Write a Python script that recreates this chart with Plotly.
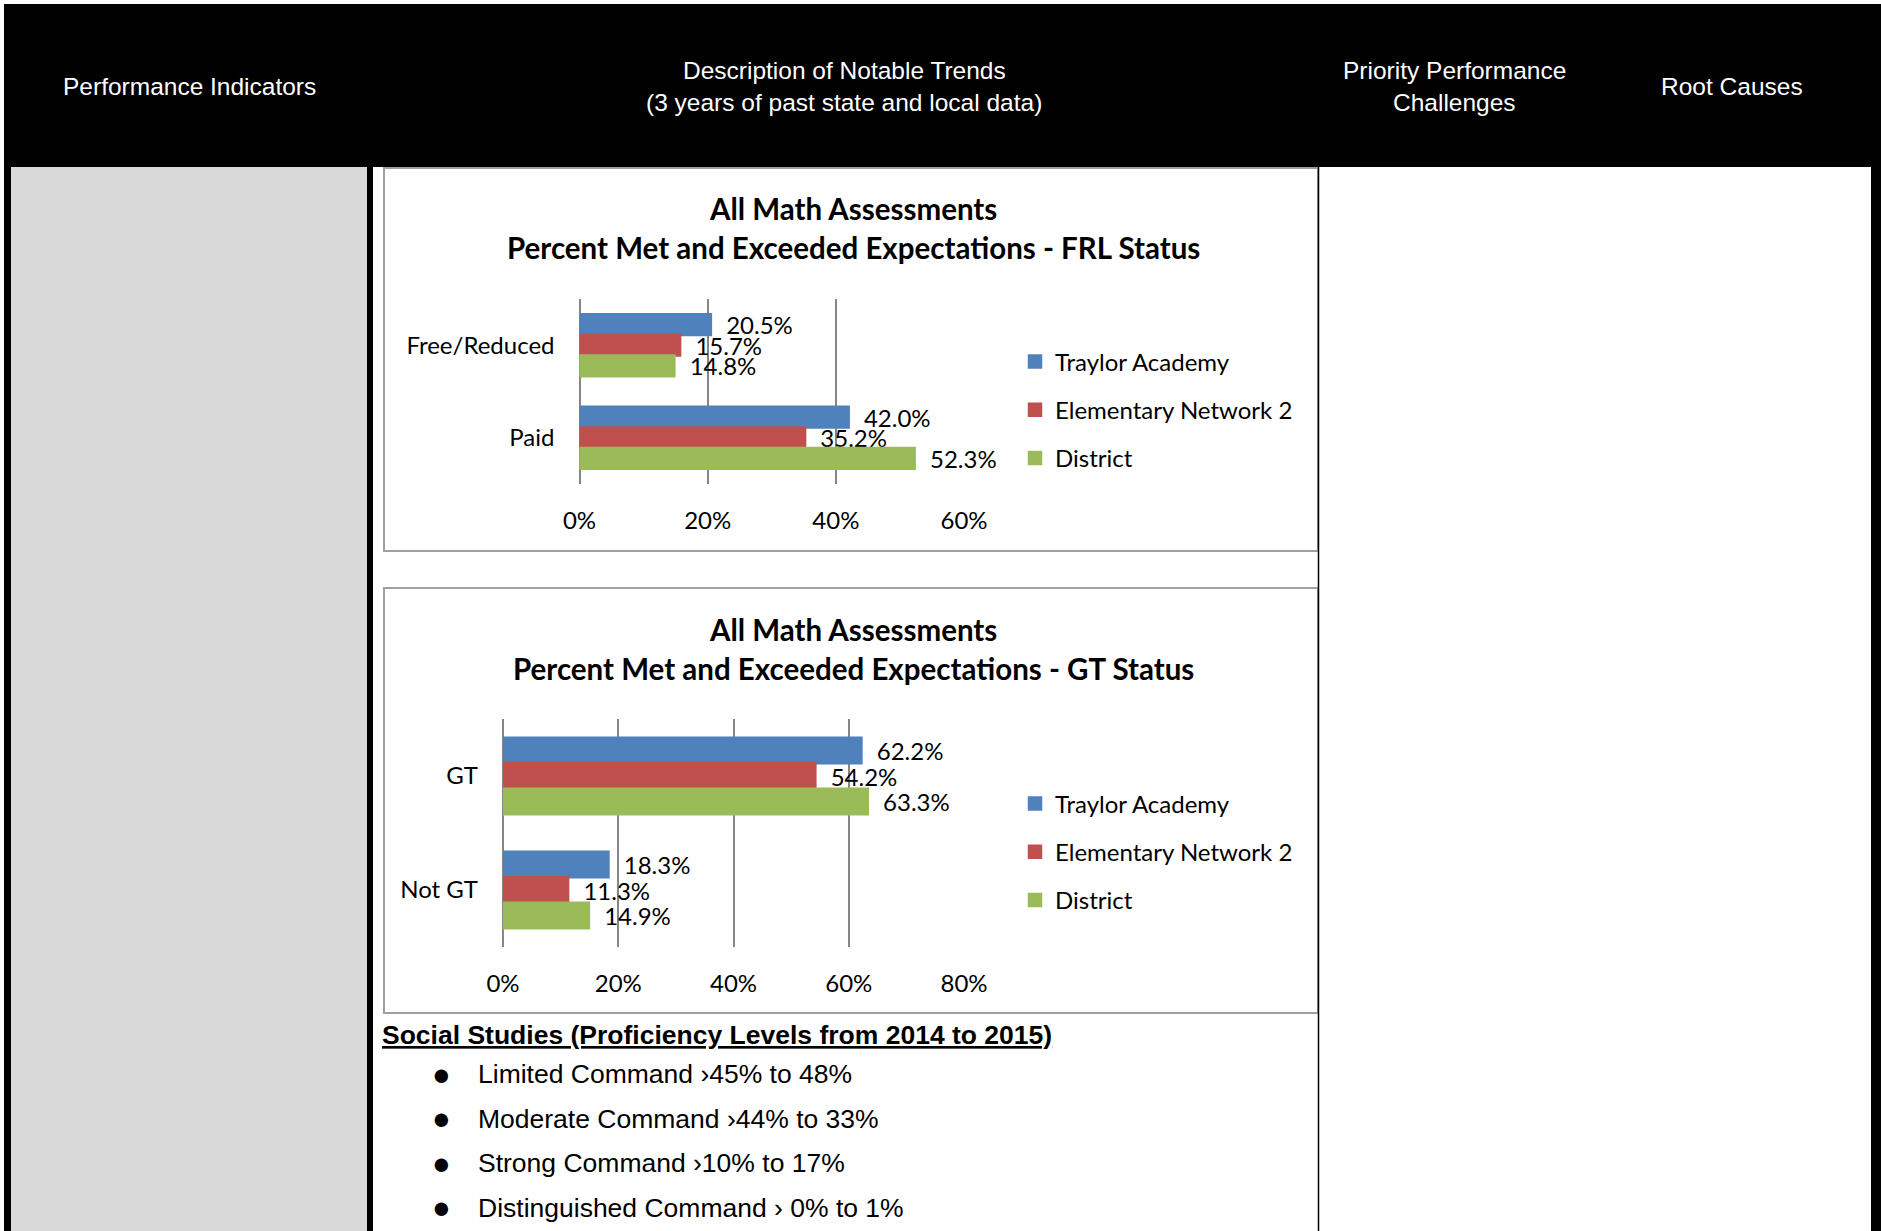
import plotly.graph_objects as go

# ---------------- data ----------------
frl_categories = ["Free/Reduced", "Paid"]
gt_categories = ["GT", "Not GT"]
series_names = ["Traylor Academy", "Elementary Network 2", "District"]
series_colors = ["#4F81BD", "#C0504D", "#9BBB59"]

frl_traylor = [20.5, 42.0]
frl_network = [15.7, 35.2]
frl_district = [14.8, 52.3]

gt_traylor = [62.2, 18.3]
gt_network = [54.2, 11.3]
gt_district = [63.3, 14.9]

frl_ticks = [0, 20, 40, 60]
gt_ticks = [0, 20, 40, 60, 80]

frl_title = ["All Math Assessments", "Percent Met and Exceeded Expectations - FRL Status"]
gt_title = ["All Math Assessments", "Percent Met and Exceeded Expectations - GT Status"]

header_labels = ["Performance Indicators",
                 "Description of Notable Trends",
                 "(3 years of past state and local data)",
                 "Priority Performance",
                 "Challenges",
                 "Root Causes"]

social_heading = "Social Studies (Proficiency Levels from 2014 to 2015)"
social_items = ["Limited Command \u203a45% to 48%",
                "Moderate Command \u203a44% to 33%",
                "Strong Command \u203a10% to 17%",
                "Distinguished Command \u203a 0% to 1%"]

# ---------------- layout helpers ----------------
W, H = 1881, 1231


def X(px):
    return px / W


def Y(py):
    return 1 - py / H


CHART_FONT = "Lato, 'Open Sans', sans-serif"
DOC_FONT = "'Liberation Sans', Arial, sans-serif"
GRID = "#868686"
CF = 24

fig = go.Figure()

frl_series = [frl_traylor, frl_network, frl_district]
gt_series = [gt_traylor, gt_network, gt_district]

for name, color, vals in zip(series_names, series_colors, frl_series):
    fig.add_trace(go.Bar(
        x=vals, y=frl_categories, orientation="h", name=name,
        marker=dict(color=color, line=dict(color=color, width=2.5)),
        texttemplate="\u00a0\u00a0%{x:.1f}%", textposition="outside",
        cliponaxis=False, constraintext="none",
        textfont=dict(family=CHART_FONT, size=CF, color="black"),
        xaxis="x", yaxis="y", legendgroup=name, legend="legend",
        hoverinfo="skip"))

for name, color, vals in zip(series_names, series_colors, gt_series):
    fig.add_trace(go.Bar(
        x=vals, y=gt_categories, orientation="h", name=name,
        marker=dict(color=color, line=dict(color=color, width=2.5)),
        texttemplate="\u00a0\u00a0%{x:.1f}%", textposition="outside",
        cliponaxis=False, constraintext="none",
        textfont=dict(family=CHART_FONT, size=CF, color="black"),
        xaxis="x2", yaxis="y2", legendgroup=name + "2", legend="legend2",
        hoverinfo="skip"))

axis_common_x = dict(
    showgrid=True, gridcolor=GRID, gridwidth=2,
    zeroline=True, zerolinecolor=GRID, zerolinewidth=2,
    showline=False, ticks="", automargin=False,
    tickfont=dict(family=CHART_FONT, size=CF, color="black"),
    ticklabelstandoff=20, fixedrange=True)
axis_common_y = dict(
    type="category", autorange="reversed", showgrid=False, zeroline=False,
    showline=False, ticks="", automargin=False,
    tickfont=dict(family=CHART_FONT, size=CF, color="black"),
    ticklabelstandoff=24, fixedrange=True)

shapes = []


def rect(x0, y0, x1, y1, fill=None, line_color=None, line_width=0, layer="below"):
    shapes.append(dict(
        type="rect", xref="paper", yref="paper",
        x0=X(x0), x1=X(x1), y0=Y(y1), y1=Y(y0),
        fillcolor=fill if fill else "rgba(0,0,0,0)",
        line=dict(color=line_color if line_color else "rgba(0,0,0,0)", width=line_width),
        layer=layer))


# table structure
rect(4, 4, 1881, 167, fill="black")
rect(4, 167, 11, 1231, fill="black")
rect(11, 167, 367, 1231, fill="#d9d9d9")
rect(367, 167, 373, 1231, fill="black")
rect(1871, 4, 1881, 1231, fill="black")
# chart frames
rect(384, 168, 1318, 551, line_color="#a0a0a0", line_width=2)
rect(384, 588, 1318, 1013, line_color="#a0a0a0", line_width=2)
# column separator
shapes.append(dict(type="line", xref="paper", yref="paper",
                   x0=X(1318.5), x1=X(1318.5), y0=Y(1231), y1=Y(167),
                   line=dict(color="black", width=1.5), layer="above"))

annotations = []


def text(x, y, s, size, color="black", family=DOC_FONT, xanchor="center", bold=False):
    annotations.append(dict(
        xref="paper", yref="paper", x=X(x), y=Y(y), text=s,
        showarrow=False, xanchor=xanchor, yanchor="middle",
        font=dict(family=family, size=size, color=color,
                  weight="bold" if bold else "normal")))


HF = 24.5
# header
text(189, 86, header_labels[0], HF, color="white")
text(844, 70, header_labels[1], HF, color="white")
text(844, 103, header_labels[2], HF, color="white")
text(1454, 70, header_labels[3], HF, color="white")
text(1454, 103, header_labels[4], HF, color="white")
text(1732, 86, header_labels[5], HF, color="white")

# chart titles
TF = 29.5
text(853, 208, frl_title[0], TF, family=CHART_FONT, bold=True)
text(853, 247, frl_title[1], TF, family=CHART_FONT, bold=True)
text(853, 629, gt_title[0], TF, family=CHART_FONT, bold=True)
text(853, 668, gt_title[1], TF, family=CHART_FONT, bold=True)

# social studies
text(380, 1035, "<u>" + social_heading + "</u>", 26.5, xanchor="left", bold=True)
for i, item in enumerate(social_items):
    yy = 1074 + i * 44.5
    text(441, yy, "\u25cf", 31)
    text(476, yy, item, 26.5, xanchor="left")

fig.update_layout(
    width=W, height=H, autosize=False,
    margin=dict(l=0, r=0, t=0, b=0, autoexpand=False),
    paper_bgcolor="white", plot_bgcolor="rgba(0,0,0,0)",
    barmode="group", bargap=0.33, bargroupgap=0,
    xaxis=dict(domain=[X(579.5), X(964)], range=[0, 60], tickvals=frl_ticks,
               ticktext=[f"{v}%" for v in frl_ticks],
               anchor="y", **axis_common_x),
    yaxis=dict(domain=[Y(484), Y(299)], categoryarray=frl_categories,
               categoryorder="array", anchor="x", **axis_common_y),
    xaxis2=dict(domain=[X(503), X(964)], range=[0, 80], tickvals=gt_ticks,
                ticktext=[f"{v}%" for v in gt_ticks],
                anchor="y2", **axis_common_x),
    yaxis2=dict(domain=[Y(947), Y(719)], categoryarray=gt_categories,
                categoryorder="array", anchor="x2", **axis_common_y),
    legend=dict(x=X(1015), xanchor="left", y=Y(410), yanchor="middle",
                font=dict(family=CHART_FONT, size=CF, color="black"),
                tracegroupgap=14, traceorder="grouped",
                bgcolor="rgba(0,0,0,0)", itemclick=False, itemdoubleclick=False),
    legend2=dict(x=X(1015), xanchor="left", y=Y(852), yanchor="middle",
                 font=dict(family=CHART_FONT, size=CF, color="black"),
                 tracegroupgap=14, traceorder="grouped",
                 bgcolor="rgba(0,0,0,0)", itemclick=False, itemdoubleclick=False),
    shapes=shapes,
    annotations=annotations,
    showlegend=True,
)

fig.write_html("out.html")
